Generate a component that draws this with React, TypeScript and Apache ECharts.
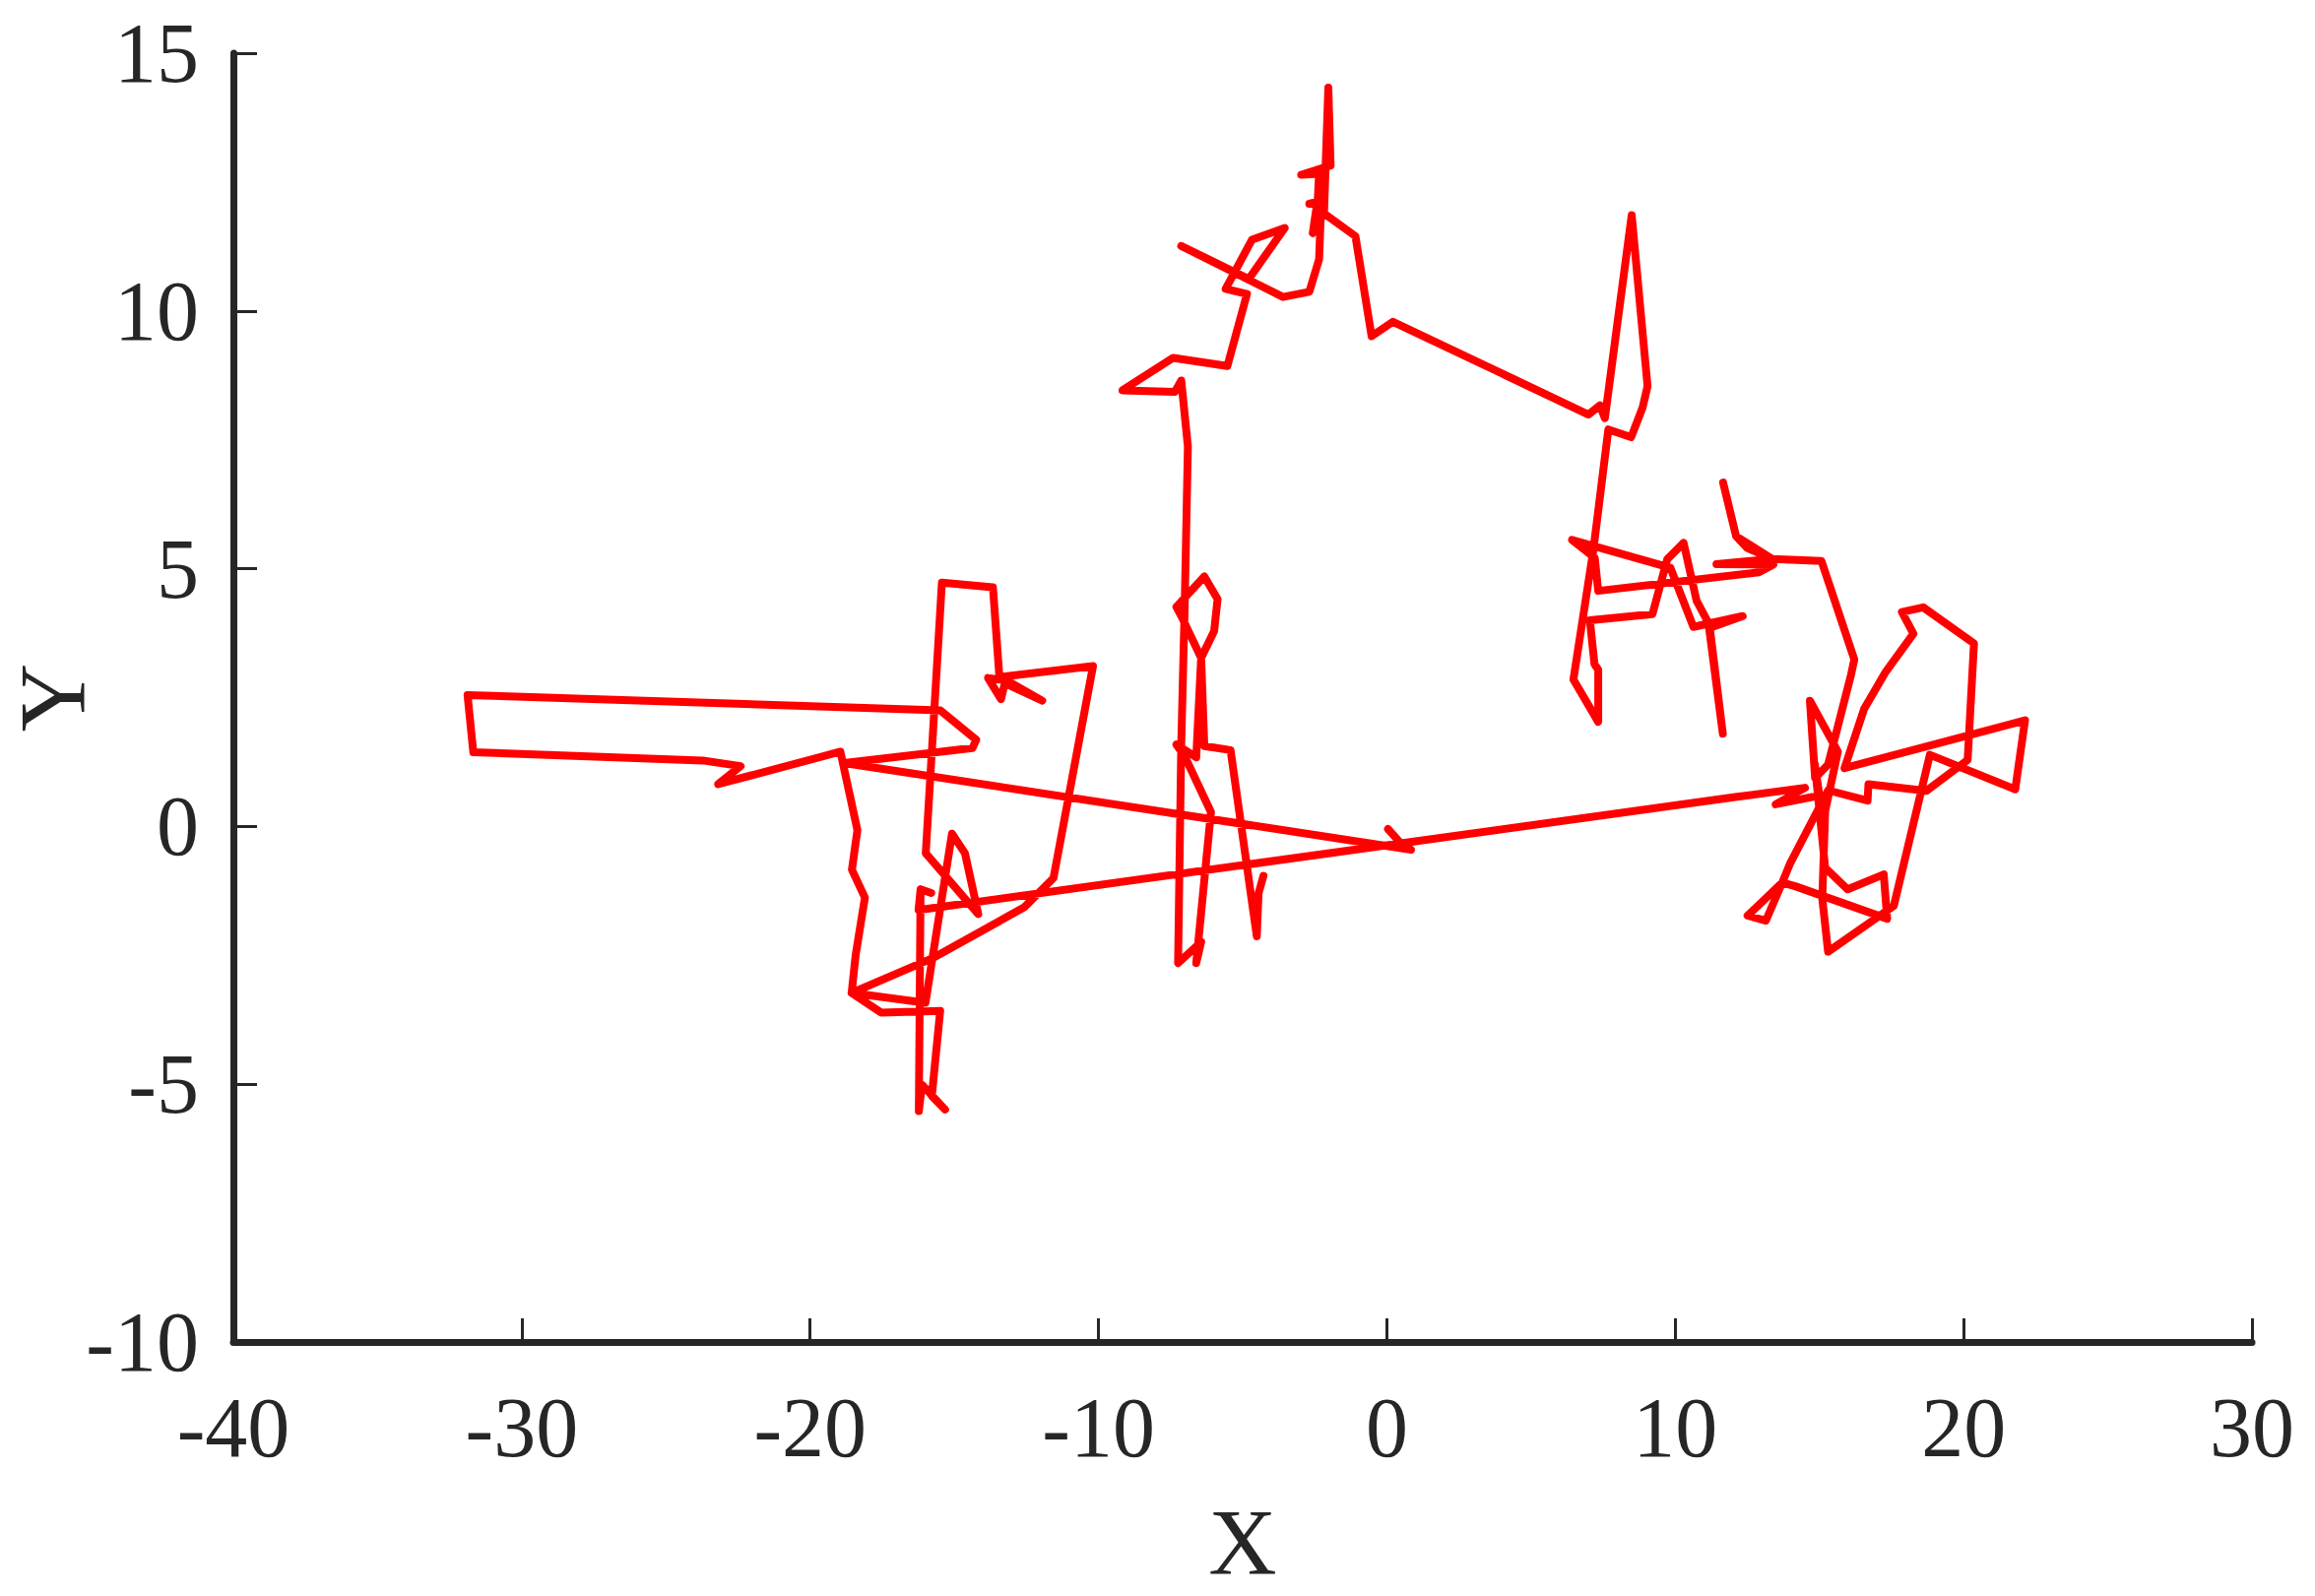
import React, { useEffect, useRef } from "react";
import * as echarts from "echarts";

// Axis ranges and ticks
const xTickValues = [-40, -30, -20, -10, 0, 10, 20, 30];
const yTickValues = [-10, -5, 0, 5, 10, 15];

// Trajectory pieces, [X, Y], in drawing order
const midColumnPath: number[][] = [
  [-4.28, -0.96], [-4.45, -1.3], [-4.51, -2.13], [-5.42, 1.48], [-6.33, 1.56],
  [-6.44, 3.27], [-5.99, 3.79], [-5.87, 4.41], [-6.33, 4.85], [-7.3, 4.26],
  [-7.1, 4.05], [-6.44, 3.27], [-6.61, 1.34], [-7.3, 1.59], [-7.0, 1.35],
  [-6.1, 0.28], [-6.61, -2.65], [-6.44, -2.24], [-6.65, -2.35], [-7.24, -2.65],
  [-7.13, 1.59], [-7.01, 4.3], [-6.9, 7.37],
];

const topPath: number[][] = [
  [-7.13, 8.65], [-7.35, 8.43], [-9.17, 8.46], [-7.41, 9.09], [-5.53, 8.93],
  [-4.85, 10.33], [-5.59, 10.43], [-4.68, 11.38], [-3.54, 11.61], [-4.79, 10.62],
  [-7.13, 11.26], [-3.6, 10.27], [-2.69, 10.37], [-2.35, 11.0], [-2.29, 11.89],
  [-2.57, 11.51], [-2.42, 12.08], [-2.69, 12.08], [-2.4, 12.12], [-2.35, 12.66],
  [-2.97, 12.64], [-1.95, 12.82], [-2.03, 14.33], [-2.18, 11.89], [-1.09, 11.45],
  [-0.53, 9.51], [0.21, 9.79],
];

const spikePath: number[][] = [
  [6.99, 7.99], [7.39, 8.17], [7.56, 7.92], [8.49, 11.86], [9.04, 8.54],
  [8.87, 8.13], [8.47, 7.55], [7.68, 7.7], [7.16, 5.36], [6.47, 2.85],
  [7.33, 2.03], [7.33, 3.04], [7.2, 3.15], [7.04, 4.0], [9.21, 4.12],
  [9.72, 5.18], [10.29, 5.5], [10.74, 4.38], [11.15, 3.95], [11.65, 1.8],
  [11.2, 3.85], [12.34, 4.08], [10.63, 3.87], [9.83, 5.02], [6.42, 5.56],
  [7.21, 5.21], [7.33, 4.57], [12.9, 4.93], [13.4, 5.08], [11.43, 5.09],
  [13.36, 5.19], [12.5, 5.4], [12.11, 5.63], [11.66, 6.67], [12.11, 5.63],
  [13.36, 5.19], [15.07, 5.15], [16.21, 3.24], [16.1, 2.95],
];

const rightClusterPath: number[][] = [
  [15.3, 1.2], [14.85, 0.94], [14.67, 2.44], [15.64, 1.45], [15.2, 0.3],
  [15.1, -1.4], [15.3, -2.43], [17.58, -1.54], [18.83, 1.39], [21.79, 0.72],
  [22.13, 2.06], [15.87, 1.13], [16.55, 2.28], [17.3, 3.0], [18.26, 3.74],
  [17.86, 4.16], [18.6, 4.25], [20.36, 3.55], [20.14, 1.29], [18.71, 0.69],
  [16.7, 0.82], [16.67, 0.5], [15.3, 0.7], [13.99, -0.71], [13.71, -1.09],
  [12.51, -1.73], [13.14, -1.83], [13.71, -1.09], [14.16, -1.16], [17.35, -1.79],
  [17.23, -0.93], [15.98, -1.22], [15.2, -0.8], [14.84, 1.21], [15.0, 0.6],
  [13.48, 0.43], [14.5, 0.75], [12.08, 0.57],
];

const bottomLeftPath: number[][] = [
  [-16.24, -1.62], [-16.17, -1.22], [-15.8, -1.29], [-16.17, -1.22], [-16.23, -5.52],
  [-16.12, -5.01], [-15.32, -5.49], [-15.78, -5.23], [-15.49, -3.58], [-17.54, -3.61],
  [-18.56, -3.23], [-16.0, -3.42], [-15.08, -0.14], [-14.63, -0.52], [-14.17, -1.7],
  [-15.99, -0.52], [-15.43, 4.73], [-13.66, 4.64], [-13.43, 2.85], [-13.83, 2.88],
  [-13.38, 2.47], [-13.25, 2.78], [-11.95, 2.44], [-13.4, 2.9], [-10.19, 3.11],
  [-11.56, -1.0], [-12.58, -1.57], [-15.77, -2.56], [-18.56, -3.23], [-18.42, -2.49],
  [-18.1, -1.38], [-18.55, -0.84], [-18.36, -0.07], [-18.95, 1.45],
];

const rectanglePath: number[][] = [
  [-23.19, 0.82], [-22.41, 1.17], [-23.72, 1.28], [-31.68, 1.44], [-31.88, 2.55],
  [-15.48, 2.25], [-14.24, 1.68], [-14.37, 1.52], [-18.82, 1.23], [0.84, -0.45],
  [0.44, -0.3], [0.04, -0.05],
];

const trajectory = [
  ...midColumnPath,
  ...topPath,
  ...spikePath,
  ...rightClusterPath,
  ...bottomLeftPath,
  ...rectanglePath,
];

const FONT = "'Liberation Serif', 'Times New Roman', serif";
const AXIS_COLOR = "#262626";

export default function App() {
  const ref = useRef<HTMLDivElement>(null);

  useEffect(() => {
    if (!ref.current) return;
    const chart = echarts.init(ref.current, undefined, { renderer: "svg" });
    const axisCommon = {
      type: "value" as const,
      nameLocation: "middle" as const,
      nameMoveOverlap: false,
      nameTextStyle: { fontFamily: FONT, fontSize: 96, color: AXIS_COLOR },
      axisLine: { show: true, onZero: false, lineStyle: { color: AXIS_COLOR, width: 7 } },
      axisTick: { show: true, inside: true, length: 24, lineStyle: { color: AXIS_COLOR, width: 3 } },
      axisLabel: { fontFamily: FONT, fontSize: 86, color: AXIS_COLOR },
      splitLine: { show: false },
    };
    chart.setOption({
      animation: false,
      backgroundColor: "#ffffff",
      grid: {
        left: 237,
        right: 64,
        top: 54,
        bottom: 258,
        containLabel: false,
        outerBoundsMode: "none",
      },
      xAxis: {
        ...axisCommon,
        min: xTickValues[0],
        max: xTickValues[xTickValues.length - 1],
        interval: 10,
        name: "X",
        nameGap: 155,
        axisLabel: { ...axisCommon.axisLabel, margin: 44 },
      },
      yAxis: {
        ...axisCommon,
        min: yTickValues[0],
        max: yTickValues[yTickValues.length - 1],
        interval: 5,
        name: "Y",
        nameGap: 136,
        axisLabel: { ...axisCommon.axisLabel, margin: 35 },
      },
      series: [
        {
          type: "line",
          data: trajectory,
          showSymbol: false,
          symbol: "none",
          clip: false,
          lineStyle: { color: "#ff0000", width: 8, join: "round", cap: "round" },
        },
      ],
    });
    return () => chart.dispose();
  }, []);

  return (
    <div
      ref={ref}
      style={{ position: "absolute", left: 0, top: 0, width: 2351, height: 1621 }}
    />
  );
}
